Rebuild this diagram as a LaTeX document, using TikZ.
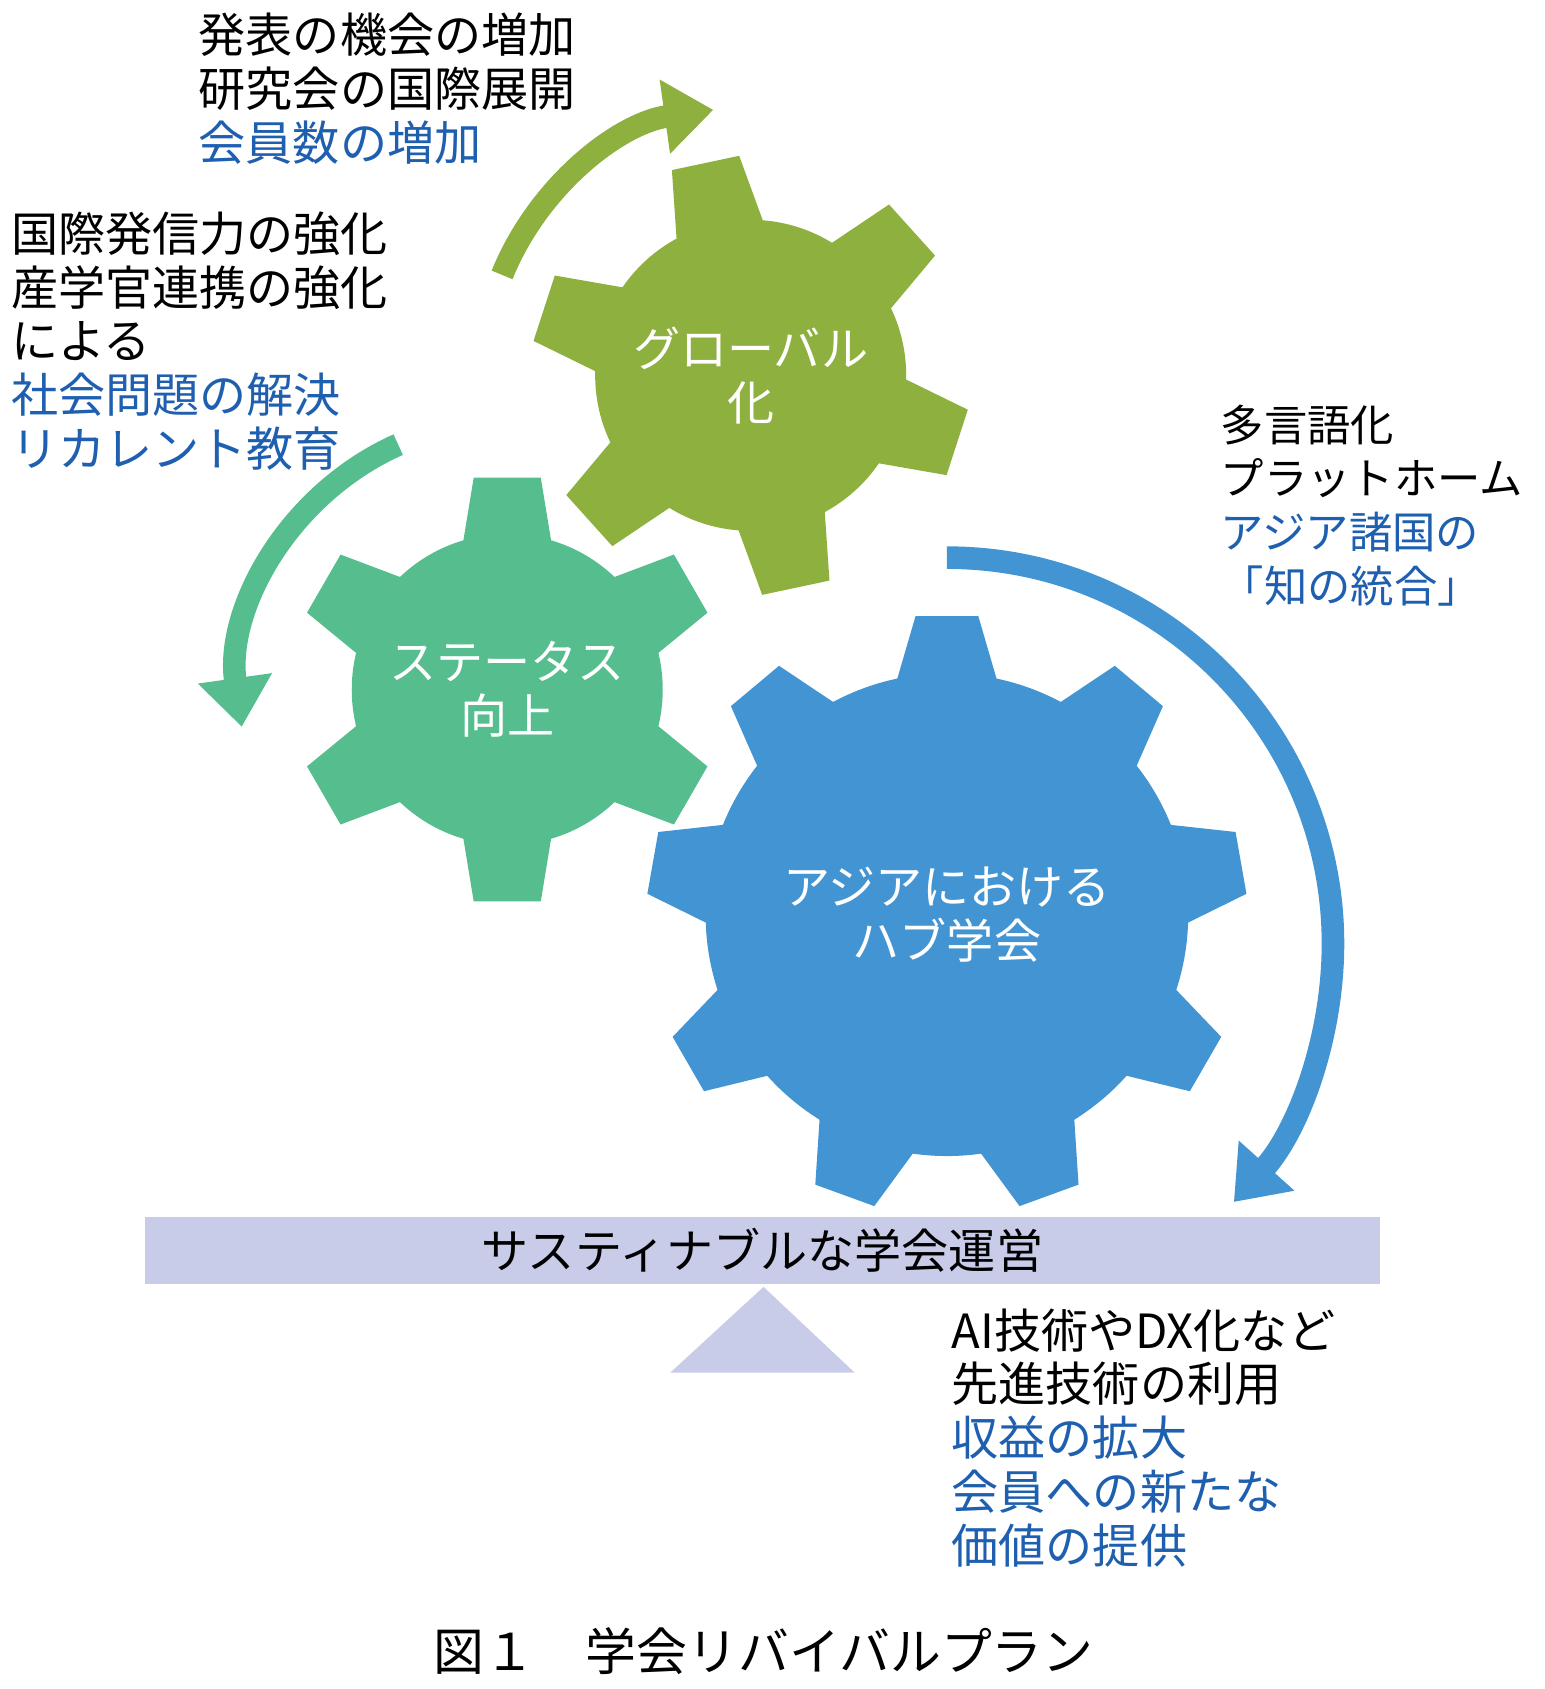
\documentclass[tikz,border=0pt]{standalone}
\usepackage{fontspec}
\setmainfont{Noto Sans CJK JP}
\usetikzlibrary{calc,arrows.meta}
\definecolor{gglobal}{RGB}{142,176,62}
\definecolor{gstatus}{RGB}{86,190,142}
\definecolor{ghub}{RGB}{67,148,210}
\definecolor{gbase}{RGB}{200,204,232}
\definecolor{tblue}{RGB}{30,95,175}
\tikzset{
  lbl/.style={anchor=north west, align=left, font=\fontsize{25}{28.5}\selectfont, inner sep=0pt},
  gearlbl/.style={align=center, text=white, font=\fontsize{25}{28.5}\selectfont},
  turn/.style={line width=12pt, -{Triangle[width=38pt,length=26pt]}},
}
% \gear{center}{inner}{outer}{teeth}{offset}{base half}{top half}{colour}
\newcommand{\gear}[8]{
  \fill[#8] (#1) circle[radius=#2];
  \foreach \k in {1,...,#4}{
    \pgfmathsetmacro{\ang}{#5+360/#4*(\k-1)}
    \fill[#8] ($(#1)+(\ang-#6:#2-8)$) -- ($(#1)+(\ang-#7:#3)$)
      -- ($(#1)+(\ang+#7:#3)$) -- ($(#1)+(\ang+#6:#2-8)$) -- cycle;
  }
}
\begin{document}
\begin{tikzpicture}[x=0.02cm, y=0.02cm]
  \useasboundingbox (0,0) rectangle (1440,-1575);

  \coordinate (G1) at (700,-350);
  \coordinate (G2) at (473,-643);
  \coordinate (G3) at (883,-853);

  \gear{G1}{145}{205}{6}{102}{18}{9}{gglobal}
  \gear{G2}{145}{200}{6}{90}{18}{9}{gstatus}
  \gear{G3}{225}{280}{9}{90}{13}{6}{ghub}

  \node[gearlbl] (global) at (G1) {グローバル\\化};
  \node[gearlbl] (status) at (G2) {ステータス\\向上};
  \node[gearlbl] (hub) at (G3) {アジアにおける\\ハブ学会};

  % turning arrows
  \draw[turn, gglobal] ($(G1)+(158:250)$) arc[start angle=158, end angle=98, radius=250];
  \draw[turn, gstatus] ($(G2)+(114:250)$) arc[start angle=114, end angle=188, radius=250];
  \draw[turn, ghub] ($(G3)+(0,-27)+(90:360)$) arc[start angle=90, end angle=-42, radius=360];

  % base
  \fill[gbase] (135,-1135) rectangle (1287,-1197);
  \node[font=\fontsize{25}{28.5}\selectfont] (base) at (711,-1166) {サスティナブルな学会運営};
  \fill[gbase] (712,-1200) -- (797,-1280) -- (625,-1280) -- cycle;

  % texts
  \node[lbl] (top) at (185,-12) {発表の機会の増加\\研究会の国際展開\\\color{tblue}会員数の増加};
  \node[lbl] (left) at (10,-197) {国際発信力の強化\\産学官連携の強化\\による\\\color{tblue}社会問題の解決\\\color{tblue}リカレント教育};
  \node[lbl, font=\fontsize{23}{28.5}\selectfont] (right) at (1138,-377) {多言語化\\プラットホーム\\\color{tblue}アジア諸国の\\\color{tblue}「知の統合」};
  \node[lbl] (bottom) at (887,-1220) {AI技術やDX化など\\先進技術の利用\\\color{tblue}収益の拡大\\\color{tblue}会員への新たな\\\color{tblue}価値の提供};

  \node[font=\fontsize{27}{30}\selectfont] (caption) at (712,-1540) {図１　学会リバイバルプラン};
\end{tikzpicture}
\end{document}
